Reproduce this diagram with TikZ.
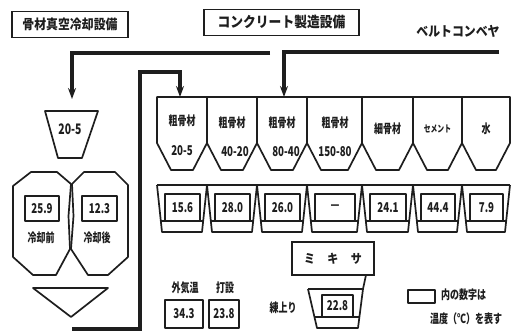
\documentclass[tikz,border=0pt]{standalone}
\usepackage{fontspec}
\setmainfont{Noto Sans CJK JP}
\newfontfamily\jpc[FakeStretch=0.72]{Noto Sans CJK JP}
\newfontfamily\jpt[FakeStretch=0.88]{Noto Sans CJK JP}
\usetikzlibrary{arrows.meta}
\definecolor{ink}{HTML}{1E1E1E}
\begin{document}
\begin{tikzpicture}[x=1pt,y=-1pt,
  outl/.style={draw=ink,line width=1.7pt,line join=round},
  conv/.style={draw=ink,line width=3.8pt,line join=miter},
  arr/.style={conv,-{Stealth[length=11pt,width=8pt]}},
  lbl/.style={inner sep=0pt,text=ink,font=\jpc\bfseries\fontsize{12.5}{13}\selectfont},
  num/.style={inner sep=0pt,text=ink,font=\jpc\bfseries\fontsize{13.5}{14}\selectfont},
  titlebox/.style={draw=ink,line width=1.8pt,inner sep=0pt,text=ink,font=\jpt\bfseries\fontsize{13.5}{14}\selectfont},
  valbox/.style={outl}
]
\useasboundingbox (0,0) rectangle (512,331);
\fill[white] (0,0) rectangle (512,331);

% titles
\node[titlebox,minimum width=116pt,minimum height=26pt] (t1) at (70,24.5) {骨材真空冷却設備};
\node[titlebox,minimum width=155pt,minimum height=26pt,font=\jpt\bfseries\fontsize{14.5}{15}\selectfont] (t2) at (281.5,22.5) {コンクリート製造設備};
\node[lbl,font=\jpt\bfseries\fontsize{13.5}{14}\selectfont] (bc) at (458,31) {ベルトコンベヤ};

% conveyor arrows
\coordinate (c1s) at (270,53);
\coordinate (c1k) at (72,53);
\coordinate (h1in) at (72,99);
\draw[arr] (c1s) -- (c1k) -- (h1in);
\coordinate (c2s) at (499,52);
\coordinate (c2k) at (284,52);
\coordinate (b3in) at (284,97);
\draw[arr] (c2s) -- (c2k) -- (b3in);

% left hopper 20-5
\draw[outl] (45,111) -- (98,111) -- (82,158) -- (58,158) -- cycle;
\node[num,font=\jpc\bfseries\fontsize{14.5}{15}\selectfont] (h1) at (70,129) {20-5};

% silos
\draw[outl] (13,186) -- (31,172) -- (57,172) -- (71,184) -- (68.5,216) -- (70,249) -- (56,275) -- (33,275) -- (13,257) -- cycle;
\draw[outl] (72,184) -- (84,172) -- (115,172) -- (128,185) -- (128,257) -- (108,275) -- (88,275) -- (71,249) -- (73.5,216) -- cycle;
\draw[valbox] (25,196) rectangle (59,221);
\node[num] (s1v) at (42,208.5) {25.9};
\node[lbl] (s1t) at (41,238) {冷却前};
\draw[valbox] (82,196) rectangle (117,221);
\node[num] (s2v) at (99.5,208.5) {12.3};
\node[lbl] (s2t) at (97,238) {冷却後};

% bottom triangle
\draw[outl] (33,288) -- (108,288) -- (71,317) -- cycle;

% return conveyor
\coordinate (r0) at (72,329);
\coordinate (r1) at (140,329);
\coordinate (r2) at (140,72);
\coordinate (r3) at (180,72);
\coordinate (b1in) at (180,97);
\draw[arr] (r0) -- (r1) -- (r2) -- (r3) -- (b1in);

% bins
\foreach \a/\b in {157/207,207/257,257/307,307/362,362/413,413/462,462/510}{
  \draw[outl] (\a,97) -- (\b,97) -- (\b,143) -- ({\b-14},170) -- ({\a+14},170) -- (\a,143) -- cycle;
}
\node[lbl] (b1a) at (182,121) {粗骨材};
\node[num] (b1b) at (182,151) {20-5};
\node[lbl] (b2a) at (232,123) {粗骨材};
\node[num] (b2b) at (235,152) {40-20};
\node[lbl] (b3a) at (282,123) {粗骨材};
\node[num] (b3b) at (286,152) {80-40};
\node[lbl] (b4a) at (335,123) {粗骨材};
\node[num] (b4b) at (335,152) {150-80};
\node[lbl] (b5a) at (387.5,129) {細骨材};
\node[lbl,font=\jpc\bfseries\fontsize{9.5}{10}\selectfont] (b6a) at (437.5,129) {セメント};
\node[lbl] (b7a) at (486,129) {水};

% weigh hoppers
\draw[ink,line width=2pt] (157,185) -- (510,185);
\foreach \a/\b/\v in {157/207/15.6,207/257/28.0,257/307/26.0,307/362/—,362/413/24.1,413/462/44.4,462/510/7.9}{
  \draw[outl] (\a,185) -- ({\a+5},232) -- ({\b-5},232) -- (\b,185);
  \draw[outl] ({\a+4},221) -- ({\b-4},221);
  \draw[valbox] ({\a+8},194) rectangle ({\b-7},221);
  \node[num] (hp\a) at ({(\a+\b)/2+0.5},207.5) {\v};
}

% mixer
\node[draw=ink,line width=1.8pt,minimum width=82pt,minimum height=33pt,inner sep=0pt,text=ink,font=\jpt\bfseries\fontsize{12.5}{13}\selectfont] (mix) at (333,258.5) {ミ\hspace{1em}キ\hspace{1em}サ};
\coordinate (mixout) at (366,275);
\coordinate (bk1) at (308,289);
\coordinate (bk2) at (317,328);
\coordinate (bk3) at (358,328);
\coordinate (bk4) at (363,289);
\draw[outl] (bk1) -- (bk2) -- (bk3) -- (bk4) -- (bk1);
\draw[outl] (bk4) -- (mixout);
\draw[outl] (314.5,317) -- (359.5,317);
\draw[valbox] (322,295) rectangle (353,317);
\node[num] (bkv) at (337.5,306) {22.8};
\node[lbl] (bkt) at (283,308) {練上り};

% air temperature / placing
\node[lbl] (ota) at (185,288) {外気温};
\draw[valbox] (165,300) rectangle (203,328);
\node[num] (otv) at (184,314) {34.3};
\node[lbl] (pla) at (225,288) {打設};
\draw[valbox] (209,300) rectangle (239,328);
\node[num] (plv) at (224,314) {23.8};

% legend
\draw[valbox] (408,290) rectangle (435,303);
\node[lbl,anchor=west] (lg1) at (441,295) {内の数字は};
\node[lbl] (lg2) at (466,319) {温度（℃）を表す};
\end{tikzpicture}
\end{document}
